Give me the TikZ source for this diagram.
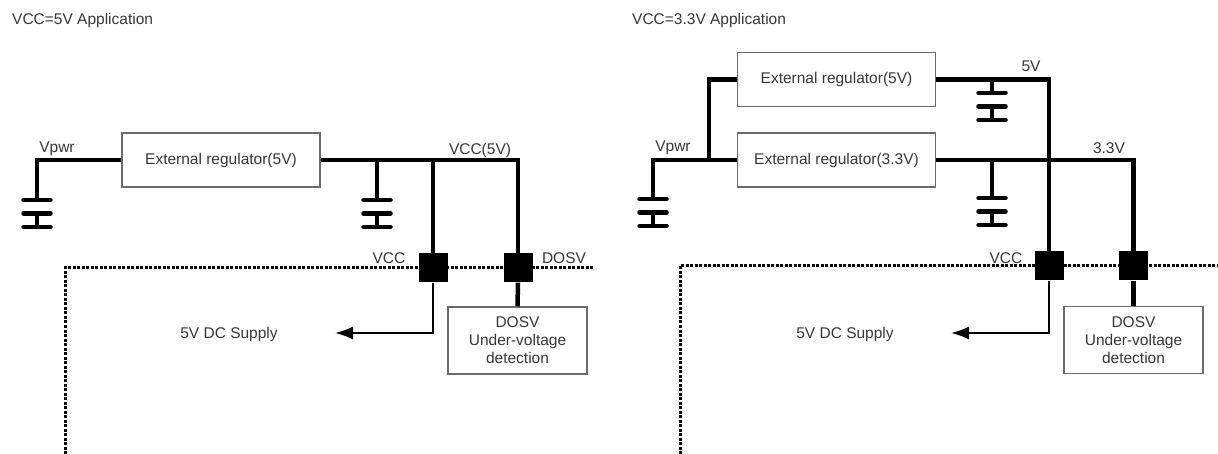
\documentclass[tikz,border=0pt]{standalone}
\usepackage{fontspec}
\setmainfont{Liberation Sans}
\usetikzlibrary{arrows.meta}
\definecolor{txt}{gray}{0.22}
\definecolor{boxc}{gray}{0.42}
\tikzset{
  wire/.style={line width=4.5pt, black},
  thinwire/.style={line width=2pt, black},
  regbox/.style={draw=boxc, line width=1.5pt, minimum width=198pt, minimum height=54pt, inner sep=0pt,
    font=\fontsize{15.5}{18}\selectfont, text=txt},
  detbox/.style={draw=boxc, line width=1.5pt, minimum width=139pt, minimum height=67pt, inner sep=0pt,
    align=center, font=\fontsize{15.5}{18}\selectfont, text=txt},
  pad/.style={fill=black, minimum size=29pt, inner sep=0pt},
  lbl/.style={font=\fontsize{15.5}{18}\selectfont, text=txt, inner sep=0pt},
  border/.style={line width=3pt, dash pattern=on 3pt off 1.5pt},
  plate/.style={line width=4.5pt, line cap=round},
  capac/.pic={
    \draw[plate] (-13.5,0) -- (13.5,0);
    \draw[plate] (-13.5,13.5) -- (13.5,13.5);
    \draw[plate] (-13.5,27) -- (13.5,27);
    \draw[wire] (0,13.5) -- (0,27);
  }
}
\begin{document}
\begin{tikzpicture}[x=1pt,y=-1pt]
\useasboundingbox (0,0) rectangle (1218,454);
\fill[white] (0,0) rectangle (1218,454);

% ================= Left: VCC=5V application =================
\node[lbl, anchor=west] (t1) at (12,20) {VCC=5V Application};

\draw[border] (65,454) -- (65,268) -- (593,268);

\node[regbox] (r1) at (221,160) {External regulator(5V)};
\node[pad] (p1) at (433,268) {};
\node[pad] (p2) at (518,268) {};
\node[detbox] (d1) at (517.5,340.5) {DOSV\\Under-voltage\\detection};

\coordinate (c1) at (37,200);
\coordinate (c2) at (377,200);
\coordinate (j1) at (433,160);
\coordinate (j2) at (377,160);
\coordinate (a1) at (335,333);

\pic at (c1) {capac};
\pic at (c2) {capac};

\draw[wire] (c1) |- (r1.west);
\draw[wire] (r1.east) -| (p2.north);
\draw[wire] (j1) -- (p1.north);
\draw[wire] (j2) -- (c2);
\draw[wire] (p2.south) -- (d1.north);
\draw[thinwire, -{Latex[length=18pt,width=13pt]}] (p1.south) |- (a1);

\node[lbl] (l1) at (57,149) {Vpwr};
\node[lbl] (l2) at (480,150) {VCC(5V)};
\node[lbl] (l3) at (389,258) {VCC};
\node[lbl] (l4) at (564,258) {DOSV};
\node[lbl] (l5) at (229,334) {5V DC Supply};

% ================= Right: VCC=3.3V application =================
\node[lbl, anchor=west] (t2) at (632,20) {VCC=3.3V Application};

\draw[border] (680,454) -- (680,266) -- (1218,266);

\node[regbox] (r2) at (836.5,79.5) {External regulator(5V)};
\node[regbox] (r3) at (836.5,160) {External regulator(3.3V)};
\node[pad] (p3) at (1049,266) {};
\node[pad] (p4) at (1133.5,266) {};
\node[detbox] (d2) at (1133.5,340) {DOSV\\Under-voltage\\detection};

\coordinate (c3) at (653,199);
\coordinate (c4) at (992,93);
\coordinate (c5) at (992,198);
\coordinate (j3) at (709,160);
\coordinate (j4) at (992,79.5);
\coordinate (j5) at (992,160);
\coordinate (a2) at (951,333);

\pic at (c3) {capac};
\pic at (c4) {capac};
\pic at (c5) {capac};

\draw[wire] (c3) |- (r3.west);
\draw[wire] (j3) |- (r2.west);
\draw[wire] (r2.east) -| (p3.north);
\draw[wire] (r3.east) -| (p4.north);
\draw[wire] (j4) -- (c4);
\draw[wire] (j5) -- (c5);
\draw[wire] (p4.south) -- (d2.north);
\draw[thinwire, -{Latex[length=18pt,width=13pt]}] (p3.south) |- (a2);

\node[lbl] (l6) at (673,148) {Vpwr};
\node[lbl] (l7) at (1031,66) {5V};
\node[lbl] (l8) at (1109,148) {3.3V};
\node[lbl] (l9) at (1006,258) {VCC};
\node[lbl] (l10) at (845,334) {5V DC Supply};
\end{tikzpicture}
\end{document}
